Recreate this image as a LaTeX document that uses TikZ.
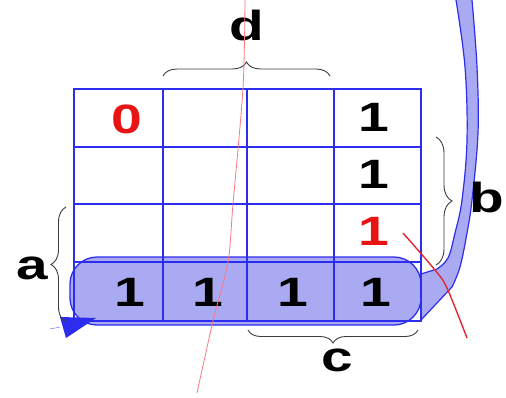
\documentclass[tikz,border=0pt]{standalone}
\usepackage{fontspec}
\setmainfont{Liberation Sans}
\usetikzlibrary{decorations.pathreplacing}
\definecolor{gridblue}{RGB}{45,45,240}
\definecolor{loopfill}{RGB}{170,170,242}
\definecolor{redtxt}{RGB}{232,20,20}
\definecolor{pinkline}{RGB}{250,120,130}
\definecolor{redline}{RGB}{225,40,50}
\definecolor{bracegray}{RGB}{60,60,60}
\newcommand{\widetxt}[1]{\scalebox{1.35}[1]{#1}}
\begin{document}
\begin{tikzpicture}[x=1pt,y=-1pt,
  gridline/.style={draw=gridblue, line width=1.4pt},
  loopline/.style={draw=gridblue, line width=1.3pt},
  digit/.style={font=\fontsize{41}{41}\selectfont\bfseries, inner sep=0pt},
  letter/.style={font=\fontsize{42}{42}\selectfont\bfseries, inner sep=0pt},
  bracestyle/.style={draw=bracegray, line width=0.9pt, decorate}]
\useasboundingbox (0,0) rectangle (506,397);
% loop fill
\fill[loopfill, rounded corners=27pt] (70,257) rectangle (421,325);
% band going up on the right
\filldraw[fill=loopfill, draw=gridblue, line width=1.2pt]
  (421,274) -- plot[smooth, tension=0.6] coordinates {(437,269) (448,258) (455,233) (462,200) (467,140) (465,67) (456,0)}
  -- (455,-6) -- (473,-6)
  -- plot[smooth, tension=0.6] coordinates {(472,0) (477,67) (478,133) (472,200) (467,233) (460,267) (452,287)}
  -- (421,320) -- cycle;
% grid
\draw[gridline] (74,89) rectangle (421,321);
\foreach \gx in {163,247,334} \draw[gridline] (\gx,89) -- (\gx,321);
\foreach \gy in {147,204,262} \draw[gridline] (74,\gy) -- (421,\gy);
% loop outline
\draw[loopline, rounded corners=27pt] (70,257) rectangle (421,325);
% arrowhead
\fill[gridblue] (60,317) -- (96,318) -- (66,338) -- cycle;
\draw[gridblue!60, line width=0.6pt] (50,329) -- (60,327);
% braces
\draw[bracestyle, decoration={brace, amplitude=14pt}] (163,76) -- (330,76);
\draw[bracestyle, decoration={brace, amplitude=16pt}] (436,137) -- (436,265);
\draw[bracestyle, decoration={brace, amplitude=15pt}] (66,322) -- (66,207);
\draw[bracestyle, decoration={brace, amplitude=13pt}] (418,330) -- (248,330);
% texts
\node[digit, text=redtxt] (z0) at (127,119) {\widetxt{0}};
\node[digit] (r1) at (374,117) {\widetxt{1}};
\node[digit] (r2) at (374,174) {\widetxt{1}};
\node[digit, text=redtxt] (r3) at (374,231) {\widetxt{1}};
\node[digit] (b1) at (130,292) {\widetxt{1}};
\node[digit] (b2) at (208,292) {\widetxt{1}};
\node[digit] (b3) at (293,292) {\widetxt{1}};
\node[digit] (b4) at (376,292) {\widetxt{1}};
\node[letter] (la) at (32,268) {\widetxt{a}};
\node[letter] (lb) at (487,197) {\widetxt{b}};
\node[letter] (lc) at (337,360) {\widetxt{c}};
\node[letter] (ld) at (247,25) {\widetxt{d}};
% red lines
\draw[pinkline, line width=0.8pt] plot[smooth] coordinates {(245,0) (243,88) (233,204) (228,262) (213,321) (197,393)};
\draw[redline, line width=1.4pt] plot[smooth] coordinates {(403,233) (435,270) (447,288) (467,338)};
\end{tikzpicture}
\end{document}
